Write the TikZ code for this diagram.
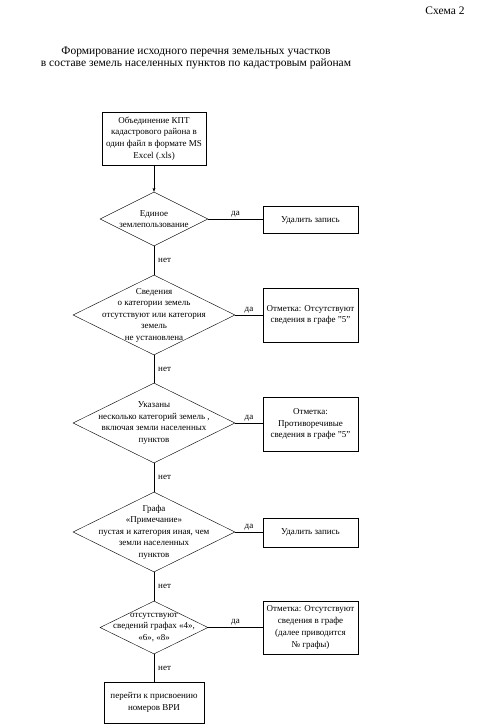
\documentclass[tikz,border=0pt]{standalone}
\usepackage{fontspec}
\setmainfont{Liberation Serif}
\usetikzlibrary{shapes.geometric,arrows.meta}

\begin{document}
\begin{tikzpicture}[x=1pt, y=-1pt,
        blok/.style={draw, rectangle, inner sep=0pt, align=center, font=\fontsize{9}{11.7}\selectfont},
        reshenie/.style={draw, diamond, inner sep=0pt},
        rtext/.style={align=center, inner sep=0pt, font=\fontsize{9}{11.5}\selectfont},
        otvet/.style={inner sep=4pt, font=\fontsize{9}{10}\selectfont}]
        \useasboundingbox (0,0) rectangle (482,724);
        % Header
        \node[font=\fontsize{11.5}{12}\selectfont] (shema) at (445,11) {Схема 2};
        \node[align=center, font=\fontsize{11.5}{12.5}\selectfont] (title) at (196,58) {Формирование исходного перечня земельных участков\\в составе земель населенных пунктов по кадастровым районам};
        % Main column
        \node[blok, minimum width=104, minimum height=53] (b1) at (154,138.5) {Объединение КПТ\\кадастрового района в\\один файл в формате MS\\Excel (.xls)};
        \node[reshenie, minimum width=108, minimum height=54] (d1) at (154,219) {};
        \node[rtext] (t1) at (d1.center) {Единое\\землепользование};
        \node[reshenie, minimum width=162, minimum height=80] (d2) at (154,315) {};
        \node[rtext] (t2) at (d2.center) {Сведения\\о категории земель\\отсутствуют или категория\\земель\\не установлена};
        \node[reshenie, minimum width=162, minimum height=80] (d3) at (154,423) {};
        \node[rtext] (t3) at (d3.center) {Указаны\\несколько категорий земель ,\\включая земли населенных\\пунктов};
        \node[reshenie, minimum width=162, minimum height=80] (d4) at (154,532) {};
        \node[rtext] (t4) at (d4.center) {Графа\\«Примечание»\\пустая и категория иная, чем\\земли населенных\\пунктов};
        \node[reshenie, minimum width=108, minimum height=53] (d5) at (154,627.5) {};
        \node[rtext] (t5) at (d5.center) {отсутствуют\\сведений графах «4»,\\«6», «8»};
        \node[blok, minimum width=100, minimum height=41] (b6) at (154,702.5) {перейти к присвоению\\номеров ВРИ};
        % Right column
        \node[blok, minimum width=95, minimum height=27] (r1) at (310.5,220) {Удалить запись};
        \node[blok, minimum width=95, minimum height=54] (r2) at (310.5,315) {Отметка: Отсутствуют\\сведения в графе "5"};
        \node[blok, minimum width=95, minimum height=54] (r3) at (310.5,424) {Отметка:\\Противоречивые\\сведения в графе "5"};
        \node[blok, minimum width=95, minimum height=29] (r4) at (310.5,532.5) {Удалить запись};
        \node[blok, minimum width=95, minimum height=53] (r5) at (310.5,627.5) {Отметка: Отсутствуют\\сведения в графе\\(далее приводится\\№ графы)};
        % Connections
        \draw[-{Stealth[length=4pt, width=3pt]}] (b1.south) -- (d1.north);
        \draw (d1.south) -- node[otvet, midway, right] {нет} (d2.north);
        \draw (d2.south) -- node[otvet, midway, right] {нет} (d3.north);
        \draw (d3.south) -- node[otvet, midway, right] {нет} (d4.north);
        \draw (d4.south) -- node[otvet, midway, right] {нет} (d5.north);
        \draw (d5.south) -- node[otvet, midway, right] {нет} (b6.north);
        \draw (d1.east) -- node[otvet, midway, above, inner sep=2pt] {да} (d1.east -| r1.west);
        \draw (d2.east) -- node[otvet, midway, above, inner sep=2pt] {да} (r2.west);
        \draw (d3.east) -- node[otvet, midway, above, inner sep=2pt] {да} (d3.east -| r3.west);
        \draw (d4.east) -- node[otvet, midway, above, inner sep=2pt] {да} (d4.east -| r4.west);
        \draw (d5.east) -- node[otvet, midway, above, inner sep=2pt] {да} (r5.west);
\end{tikzpicture}
\end{document}
